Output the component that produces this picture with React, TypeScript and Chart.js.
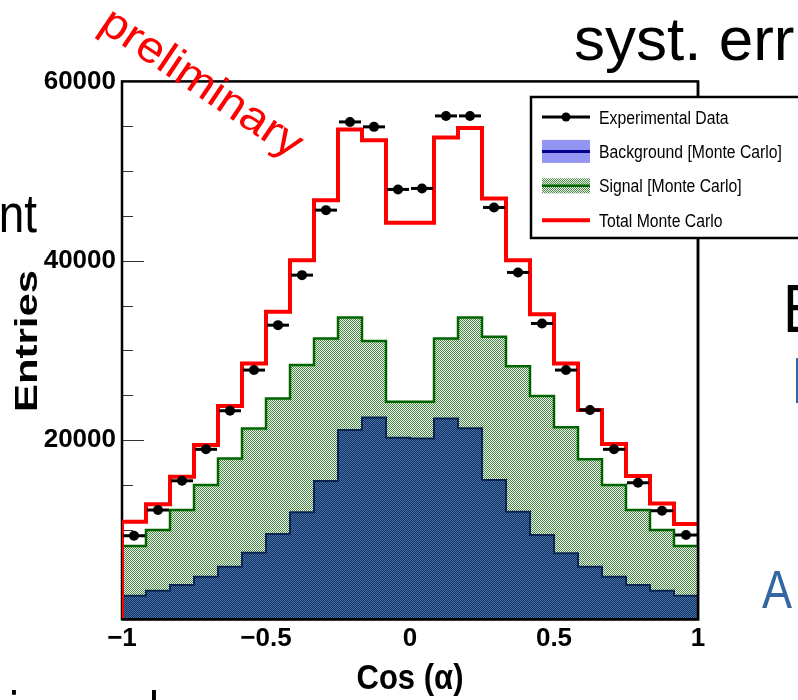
import React, { useEffect, useRef } from 'react';
import { Chart, registerables } from 'chart.js';

Chart.register(...registerables);

// ---------------- data ----------------
const X_MIN = -1;
const X_MAX = 1;
const BIN_COUNT = 24;

const experimentalData = [
  9320, 12190, 15450, 18960, 23260, 27800, 32810, 38390, 45640, 55480, 54930, 47950,
  48060, 56150, 56150, 45940, 38690, 33000, 27800, 23340, 18960, 15230, 12110, 9400,
];
const totalMonteCarlo = [
  10880, 12820, 15900, 19430, 23780, 28540, 34300, 40060, 46750, 54640, 53440, 44220,
  44220, 53740, 54810, 46940, 40060, 34040, 28540, 23340, 19550, 15980, 12930, 10630,
];
const backgroundMC = [
  2630, 3190, 3820, 4750, 5870, 7430, 9510, 11930, 15420, 21110, 22520, 20250,
  20180, 22410, 21300, 15530, 12000, 9400, 7360, 5870, 4750, 3820, 3190, 2630,
];
const signalMC = [
  5540, 6770, 8370, 10220, 12070, 13860, 15130, 16430, 15910, 12560, 8510, 4010,
  4080, 8920, 12370, 15980, 16240, 15500, 14050, 11970, 10220, 8370, 6770, 5540,
];

const Y_MIN = 0;
const Y_MAX = 60000;
const Y_MAJOR_STEP = 20000;
const Y_MINOR_STEP = 5000;
const X_MAJOR_STEP = 0.5;

const legendLabels = [
  'Experimental Data',
  'Background [Monte Carlo]',
  'Signal [Monte Carlo]',
  'Total Monte Carlo',
];
const xAxisTitle = 'Cos (\u03b1)';
const yAxisTitle = 'Entries';
const watermark = 'preliminary';

const FONT = '"Liberation Sans", Arial, Helvetica, sans-serif';

// ---------------- helpers ----------------
const binWidth = (X_MAX - X_MIN) / BIN_COUNT;
const binEdge = (i: number) => X_MIN + i * binWidth;
const binCenter = (i: number) => X_MIN + (i + 0.5) * binWidth;

function stepPoints(values: number[], startAtZero = false) {
  const pts: { x: number; y: number }[] = [];
  if (startAtZero) pts.push({ x: X_MIN, y: 0 });
  values.forEach((v, i) => pts.push({ x: binEdge(i), y: v }));
  pts.push({ x: X_MAX, y: values[values.length - 1] });
  return pts;
}

function makePattern(base: string, dot: string) {
  const cv = document.createElement('canvas');
  cv.width = 2;
  cv.height = 2;
  const g = cv.getContext('2d')!;
  g.fillStyle = base;
  g.fillRect(0, 0, 2, 2);
  g.fillStyle = dot;
  g.fillRect(0, 0, 1, 1);
  g.fillRect(1, 1, 1, 1);
  return g.createPattern(cv, 'repeat') as CanvasPattern;
}

function drawText(
  ctx: CanvasRenderingContext2D,
  text: string,
  x: number,
  y: number,
  o: { font: string; color: string; align?: CanvasTextAlign; scaleX?: number; targetWidth?: number; angle?: number; baseline?: CanvasTextBaseline }
) {
  ctx.save();
  ctx.font = o.font;
  ctx.fillStyle = o.color;
  ctx.textBaseline = o.baseline || 'alphabetic';
  ctx.textAlign = o.align || 'left';
  ctx.translate(x, y);
  if (o.angle) ctx.rotate(o.angle);
  const w = ctx.measureText(text).width;
  const sx = o.targetWidth ? o.targetWidth / w : o.scaleX ?? 1;
  ctx.scale(sx, 1);
  ctx.fillText(text, 0, 0);
  ctx.restore();
}

export default function App() {
  const ref = useRef<HTMLCanvasElement>(null);

  useEffect(() => {
    document.body.style.margin = '0';
    const canvas = ref.current!;
    const ctx = canvas.getContext('2d')!;

    const greenPattern = makePattern('#eef4ea', '#4a864a');
    const bluePattern = makePattern('#18325f', '#4170aa');
    const legendBlue = '#9494f2';

    const stackedSignal = signalMC.map((s, i) => s + backgroundMC[i]);

    const framePlugin = {
      id: 'rootFrame',
      beforeDatasetsDraw(chart: any) {
        const { ctx: c, chartArea: a, scales } = chart;
        c.save();
        c.strokeStyle = '#333';
        c.lineWidth = 1;
        for (let v = Y_MIN; v <= Y_MAX; v += Y_MINOR_STEP) {
          const y = Math.round(scales.y.getPixelForValue(v)) + 0.5;
          const len = v % Y_MAJOR_STEP === 0 ? 22 : 11;
          c.beginPath();
          c.moveTo(a.left, y);
          c.lineTo(a.left + len, y);
          c.stroke();
        }
        c.strokeStyle = '#000';
        c.lineWidth = 2.5;
        c.strokeRect(a.left, a.top, a.right - a.left, a.bottom - a.top);
        c.restore();
      },
      afterDatasetsDraw(chart: any) {
        const { ctx: c, chartArea: a, scales } = chart;
        c.save();
        c.strokeStyle = '#000';
        c.lineWidth = 3;
        experimentalData.forEach((v, i) => {
          const y = scales.y.getPixelForValue(v);
          c.beginPath();
          c.moveTo(scales.x.getPixelForValue(binEdge(i)) + 1, y);
          c.lineTo(scales.x.getPixelForValue(binEdge(i + 1)) - 1, y);
          c.stroke();
        });
        c.lineWidth = 2.5;
        c.beginPath();
        c.moveTo(a.right, a.top);
        c.lineTo(a.right, a.bottom);
        c.lineTo(a.left, a.bottom);
        c.stroke();
        c.restore();
      },
      afterDraw(chart: any) {
        const { ctx: c, chartArea: a } = chart;
        drawText(c, xAxisTitle, (a.left + a.right) / 2, 689, {
          font: `bold 35px ${FONT}`, color: '#000', align: 'center', targetWidth: 107,
        });
        drawText(c, yAxisTitle, 37, 341, {
          font: `bold 31px ${FONT}`, color: '#000', align: 'center', targetWidth: 142, angle: -Math.PI / 2,
        });

        // legend
        const lx = 531, ly = 97, lw = 300, lh = 141;
        c.save();
        c.fillStyle = '#fff';
        c.fillRect(lx, ly, lw, lh);
        c.strokeStyle = '#000';
        c.lineWidth = 2.5;
        c.strokeRect(lx, ly, lw, lh);
        const sx0 = 542, sx1 = 590;
        legendLabels.forEach((lab, i) => {
          const base = 123.5 + i * 34.4;
          const cy = base - 6.5;
          if (i === 0) {
            c.strokeStyle = '#000';
            c.lineWidth = 3;
            c.beginPath(); c.moveTo(sx0, cy); c.lineTo(sx1, cy); c.stroke();
            c.fillStyle = '#000';
            c.beginPath(); c.arc((sx0 + sx1) / 2, cy, 4.5, 0, Math.PI * 2); c.fill();
          } else if (i === 1) {
            c.fillStyle = legendBlue;
            c.fillRect(sx0, cy - 11.5, sx1 - sx0, 23);
            c.strokeStyle = '#00008b';
            c.lineWidth = 3;
            c.beginPath(); c.moveTo(sx0, cy); c.lineTo(sx1, cy); c.stroke();
          } else if (i === 2) {
            c.fillStyle = greenPattern;
            c.fillRect(sx0, cy - 7.5, sx1 - sx0, 15);
            c.strokeStyle = '#006400';
            c.lineWidth = 2.5;
            c.beginPath(); c.moveTo(sx0, cy); c.lineTo(sx1, cy); c.stroke();
          } else {
            c.strokeStyle = '#ff0000';
            c.lineWidth = 4;
            c.beginPath(); c.moveTo(sx0, cy); c.lineTo(sx1, cy); c.stroke();
          }
          drawText(c, lab, 599, base, { font: `17.5px ${FONT}`, color: '#000', scaleX: 0.9 });
        });
        c.restore();

        // watermark
        drawText(c, watermark, 201, 84, {
          font: `44px ${FONT}`, color: '#ff0000', align: 'center', baseline: 'middle', targetWidth: 234, angle: (34 * Math.PI) / 180,
        });

        // surrounding slide text fragments
        drawText(c, 'syst. err', 574, 60, { font: `62px ${FONT}`, color: '#000' });
        drawText(c, 'nt', 37, 232, { font: `54px ${FONT}`, color: '#000', align: 'right', scaleX: 0.85 });
        drawText(c, 'E', 783, 332, { font: `68px ${FONT}`, color: '#000', scaleX: 0.85 });
        drawText(c, 'I', 791, 403, { font: `64px ${FONT}`, color: '#3465a4', scaleX: 0.85 });
        drawText(c, 'A', 762, 608, { font: `53px ${FONT}`, color: '#3465a4', scaleX: 0.85 });
        drawText(c, 'i', 9, 730, { font: `56px ${FONT}`, color: '#000', scaleX: 0.8 });
        drawText(c, 'l', 149, 730, { font: `56px ${FONT}`, color: '#000', scaleX: 0.8 });
      },
    };

    const tickFont = { family: FONT, size: 26, weight: 'bold' as const };

    const chart = new Chart(ctx, {
      type: 'line',
      data: {
        datasets: [
          {
            type: 'scatter',
            label: legendLabels[0],
            data: experimentalData.map((v, i) => ({ x: binCenter(i), y: v })),
            showLine: false,
            pointRadius: 5,
            pointBackgroundColor: '#000',
            pointBorderColor: '#000',
            pointBorderWidth: 0,
            order: 1,
          } as any,
          {
            label: legendLabels[3],
            data: stepPoints(totalMonteCarlo, true),
            stepped: true,
            borderColor: '#ff0000',
            borderWidth: 4,
            pointRadius: 0,
            fill: false,
            order: 2,
          },
          {
            label: legendLabels[1],
            data: stepPoints(backgroundMC),
            stepped: true,
            borderColor: '#0b2452',
            borderWidth: 2,
            backgroundColor: bluePattern as any,
            pointRadius: 0,
            fill: 'origin',
            order: 3,
          },
          {
            label: legendLabels[2],
            data: stepPoints(stackedSignal),
            stepped: true,
            borderColor: '#006400',
            borderWidth: 2.5,
            backgroundColor: greenPattern as any,
            pointRadius: 0,
            fill: 'origin',
            order: 4,
          },
        ],
      },
      options: {
        responsive: false,
        animation: false,
        devicePixelRatio: 1,
        layout: { padding: { left: 0, right: 100, top: 81.4, bottom: 0 } },
        plugins: {
          legend: { display: false },
          tooltip: { enabled: false },
        },
        scales: {
          x: {
            type: 'linear',
            min: X_MIN,
            max: X_MAX,
            grid: { display: false, drawTicks: false },
            border: { display: false },
            ticks: {
              stepSize: X_MAJOR_STEP,
              autoSkip: false,
              maxRotation: 0,
              padding: 4,
              color: '#000',
              font: tickFont,
              callback: (v: any) => (Number(v) < 0 ? '\u2212' + Math.abs(Number(v)) : String(Number(v))),
            },
            afterFit: (s: any) => { s.height = 80.7; },
          },
          y: {
            type: 'linear',
            min: Y_MIN,
            max: Y_MAX,
            grid: { display: false, drawTicks: false },
            border: { display: false },
            ticks: {
              stepSize: Y_MAJOR_STEP,
              padding: 6,
              color: '#000',
              font: tickFont,
              callback: (v: any) => (Number(v) === 0 ? '' : String(v)),
            },
            afterFit: (s: any) => { s.width = 122; },
          },
        },
      },
      plugins: [framePlugin],
    });

    return () => chart.destroy();
  }, []);

  return (
    <canvas ref={ref} width={798} height={700} style={{ display: 'block', width: 798, height: 700 }} />
  );
}
